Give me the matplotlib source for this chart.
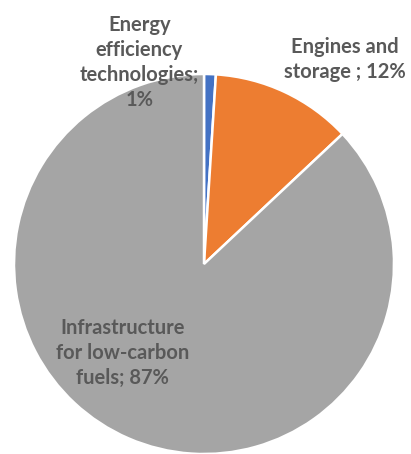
import matplotlib
matplotlib.use('Agg')
import matplotlib.pyplot as plt

plt.rcParams['font.family'] = ['Lato', 'DejaVu Sans']

# Share of spending by category (%)
categories = ['Energy\nefficiency\ntechnologies;\n1%',
              'Engines and\nstorage ; 12%',
              'Infrastructure\nfor low-carbon\nfuels; 87%']
shares = [1, 12, 87]
colors = ['#4472C4', '#ED7D31', '#A5A5A5']

fig = plt.figure(figsize=(4.11, 4.54), dpi=100)
ax = fig.add_axes([14 / 411, 0 / 454, 380 / 411, 380 / 454])

ax.pie(shares, colors=colors, startangle=90, counterclock=False,
       radius=1.0, wedgeprops=dict(edgecolor='white', linewidth=1.8))
ax.set_xlim(-1, 1)
ax.set_ylim(-1, 1)
ax.set_aspect('equal')
ax.axis('off')

# label placement in data units (pie radius = 1)
label_pos = [(-0.34, 1.06), (0.74, 1.075), (-0.43, -0.47)]
for text, (x, y) in zip(categories, label_pos):
    ax.text(x, y, text, ha='center', va='center', fontsize=14.5,
            fontweight='bold', color='#595959', linespacing=1.32,
            clip_on=False)

fig.savefig('out.png', dpi=100)
